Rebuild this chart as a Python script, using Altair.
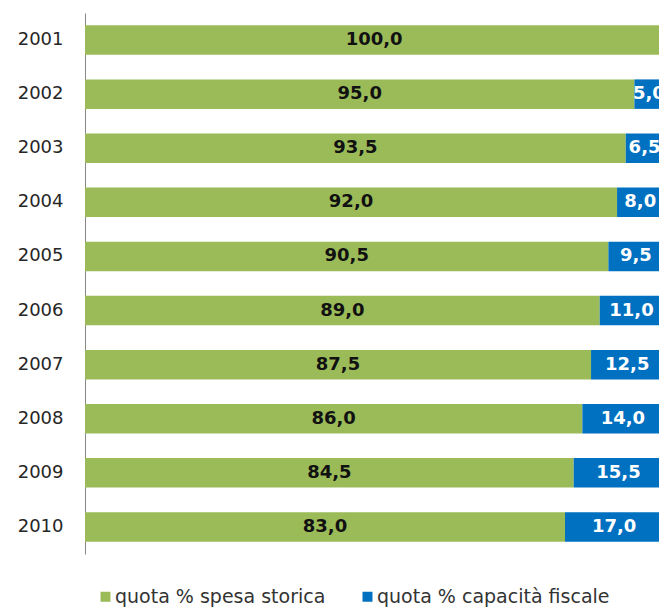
import altair as alt
import pandas as pd

years = [str(y) for y in range(2001, 2011)]
spesa_storica = [100.0, 95.0, 93.5, 92.0, 90.5, 89.0, 87.5, 86.0, 84.5, 83.0]
capacita_fiscale = [0.0, 5.0, 6.5, 8.0, 9.5, 11.0, 12.5, 14.0, 15.5, 17.0]
series = ["quota % spesa storica", "quota % capacità fiscale"]
colors = ["#9BBB59", "#0070C0"]

rows = []
for i, y in enumerate(years):
    rows.append({"year": y, "serie": series[0], "value": spesa_storica[i], "ord": 0})
    rows.append({"year": y, "serie": series[1], "value": capacita_fiscale[i], "ord": 1})
df = pd.DataFrame(rows)

base = alt.Chart(df).transform_stack(
    stack="value", groupby=["year"], as_=["x0", "x1"], sort=[alt.SortField("ord")]
).transform_calculate(
    mid="(datum.x0 + datum.x1) / 2",
    label="replace(format(datum.value, '.1f'), '.', ',')",
)

xscale = alt.Scale(domain=[0, 99.25], nice=False, zero=False)
yscale = alt.Scale(domain=years, paddingInner=0.455, paddingOuter=0.2275)

bars = base.mark_bar(clip=True).encode(
    x=alt.X("x0:Q", scale=xscale, axis=None),
    x2="x1:Q",
    y=alt.Y(
        "year:N",
        scale=yscale,
        axis=alt.Axis(
            title=None,
            ticks=False,
            labelPadding=22,
            domainColor="#888888",
            domainWidth=1,
            labelFontSize=18,
            labelFont="DejaVu Sans",
            labelColor="#262626",
        ),
    ),
    color=alt.Color(
        "serie:N",
        scale=alt.Scale(domain=series, range=colors),
        legend=alt.Legend(
            title=None,
            orient="none",
            legendX=11,
            legendY=574,
            direction="horizontal",
            symbolType="square",
            symbolSize=100,
            symbolStrokeWidth=0,
            labelFontSize=19,
            labelFont="DejaVu Sans",
            labelColor="#333333",
            labelLimit=400,
            labelOffset=0,
            columnPadding=32,
            padding=0,
        ),
    ),
    order=alt.Order("ord:Q"),
)

labels = base.transform_filter("datum.value > 0").mark_text(
    clip=True, font="DejaVu Sans", fontWeight="bold", fontSize=18, baseline="middle", align="center"
).encode(
    x=alt.X("mid:Q", scale=xscale, axis=None),
    y=alt.Y("year:N", scale=yscale),
    text="label:N",
    color=alt.condition("datum.ord == 0", alt.value("#111111"), alt.value("#FFFFFF")),
)

chart = (
    alt.layer(bars, labels)
    .properties(
        width=574,
        height=541,
        autosize=alt.AutoSizeParams(type="none"),
        padding={"left": 77, "top": 5, "right": 0, "bottom": 54},
    )
    .configure_view(stroke=None)
)

chart.save("out.html", embed_options={"renderer": "svg", "actions": False})
